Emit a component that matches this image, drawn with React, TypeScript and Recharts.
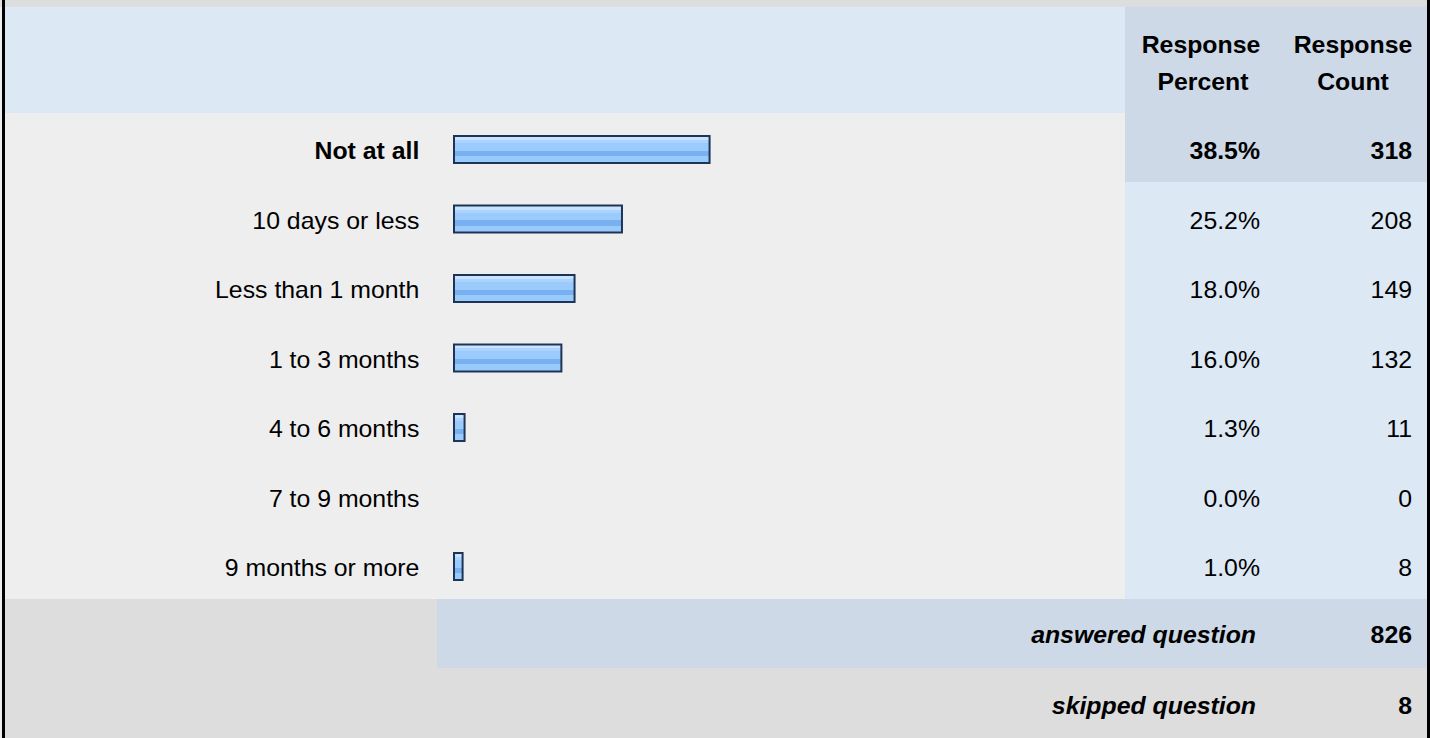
import React from "react";
import { BarChart, Bar, XAxis, YAxis } from "recharts";

const categories = [
  "Not at all",
  "10 days or less",
  "Less than 1 month",
  "1 to 3 months",
  "4 to 6 months",
  "7 to 9 months",
  "9 months or more",
];
const percents = [38.5, 25.2, 18.0, 16.0, 1.3, 0.0, 1.0];
const counts = [318, 208, 149, 132, 11, 0, 8];
const headerPercent = ["Response", "Percent"];
const headerCount = ["Response", "Count"];
const answeredLabel = "answered question";
const answeredCount = 826;
const skippedLabel = "skipped question";
const skippedCount = 8;

const data = categories.map((name, i) => ({ name, pct: percents[i], count: counts[i] }));

const FONT = '"Liberation Sans", Arial, Helvetica, sans-serif';
const FS = 23;
const SX = 1.08;

const T = ({ x, y, anchor, bold, italic, children }: any) => (
  <g transform={`translate(${x},${y}) scale(${SX},1)`}>
    <text
      x={0}
      y={0}
      textAnchor={anchor}
      fontFamily={FONT}
      fontSize={FS}
      fontWeight={bold ? "bold" : "normal"}
      fontStyle={italic ? "italic" : "normal"}
      fill="#000"
    >
      {children}
    </text>
  </g>
);

const RowTick = (props: any) => {
  const { y, payload } = props;
  const i = categories.indexOf(payload.value);
  const bold = i === 0;
  const by = y + 9.5;
  return (
    <g>
      <T x={419.3} y={by} anchor="end" bold={bold}>{payload.value}</T>
      <T x={1260} y={by} anchor="end" bold={bold}>{percents[i].toFixed(1) + "%"}</T>
      <T x={1412} y={by} anchor="end" bold={bold}>{String(counts[i])}</T>
    </g>
  );
};

const BarShape = (props: any) => {
  const { x, y, width, height } = props;
  if (!width || width <= 0) return null;
  const w = width + 4;
  return (
    <g>
      <rect x={x} y={y} width={w} height={height} fill="#1e3456" />
      <rect x={x + 2} y={y + 2} width={w - 4} height={height - 4} fill="url(#barGrad)" />
    </g>
  );
};

const abs = (l: number, t: number, w: number, h: number, bg: string): React.CSSProperties => ({
  position: "absolute",
  left: l,
  top: t,
  width: w,
  height: h,
  background: bg,
});

export default function App() {
  return (
    <div style={{ position: "absolute", left: 0, top: 0, width: 1430, height: 738, background: "#eeeeee", overflow: "hidden" }}>
      <div style={abs(0, 0, 1430, 7, "#dddddd")} />
      <div style={abs(5, 7, 1120, 106, "#dde8f5")} />
      <div style={abs(1125, 7, 302, 106, "#cdd9e6")} />
      <div style={abs(1125, 113, 302, 69, "#cdd9e6")} />
      <div style={abs(1125, 182, 302, 417, "#dde8f5")} />
      <div style={abs(5, 599, 432, 69, "#dddddd")} />
      <div style={abs(437, 599, 990, 69, "#cdd9e6")} />
      <div style={abs(5, 668, 1422, 70, "#dddddd")} />
      <div style={abs(2, 0, 3, 738, "#000000")} />
      <div style={abs(1427, 0, 3, 738, "#000000")} />

      <div style={{ position: "absolute", left: 0, top: 0 }}>
        <BarChart
          width={1430}
          height={738}
          data={data}
          layout="vertical"
          margin={{ top: 115, bottom: 136.5, left: 0, right: 318.4 }}
        >
          <defs>
            <linearGradient id="barGrad" x1="0" y1="0" x2="0" y2="1">
              <stop offset="0" stopColor="#c8e3ff" />
              <stop offset="0.12" stopColor="#c8e3ff" />
              <stop offset="0.12" stopColor="#aad4ff" />
              <stop offset="0.24" stopColor="#aad4ff" />
              <stop offset="0.24" stopColor="#9bcbfd" />
              <stop offset="0.55" stopColor="#9bcbfd" />
              <stop offset="0.55" stopColor="#78b0f0" />
              <stop offset="0.76" stopColor="#78b0f0" />
              <stop offset="0.76" stopColor="#99cafc" />
              <stop offset="1" stopColor="#99cafc" />
            </linearGradient>
          </defs>
          <XAxis type="number" domain={[0, 100]} hide />
          <YAxis
            type="category"
            dataKey="name"
            width={453}
            tickLine={false}
            axisLine={false}
            tick={<RowTick />}
            interval={0}
          />
          <Bar dataKey="pct" barSize={29} isAnimationActive={false} shape={<BarShape />} />
        </BarChart>
      </div>

      <svg width={1430} height={738} style={{ position: "absolute", left: 0, top: 0, pointerEvents: "none" }}>
        <T x={1201} y={52.5} anchor="middle" bold>{headerPercent[0]}</T>
        <T x={1203} y={90} anchor="middle" bold>{headerPercent[1]}</T>
        <T x={1353} y={52.5} anchor="middle" bold>{headerCount[0]}</T>
        <T x={1353} y={90} anchor="middle" bold>{headerCount[1]}</T>
        <T x={1256} y={643} anchor="end" bold italic>{answeredLabel}</T>
        <T x={1412} y={643} anchor="end" bold>{String(answeredCount)}</T>
        <T x={1256} y={714} anchor="end" bold italic>{skippedLabel}</T>
        <T x={1412} y={714} anchor="end" bold>{String(skippedCount)}</T>
      </svg>
    </div>
  );
}
